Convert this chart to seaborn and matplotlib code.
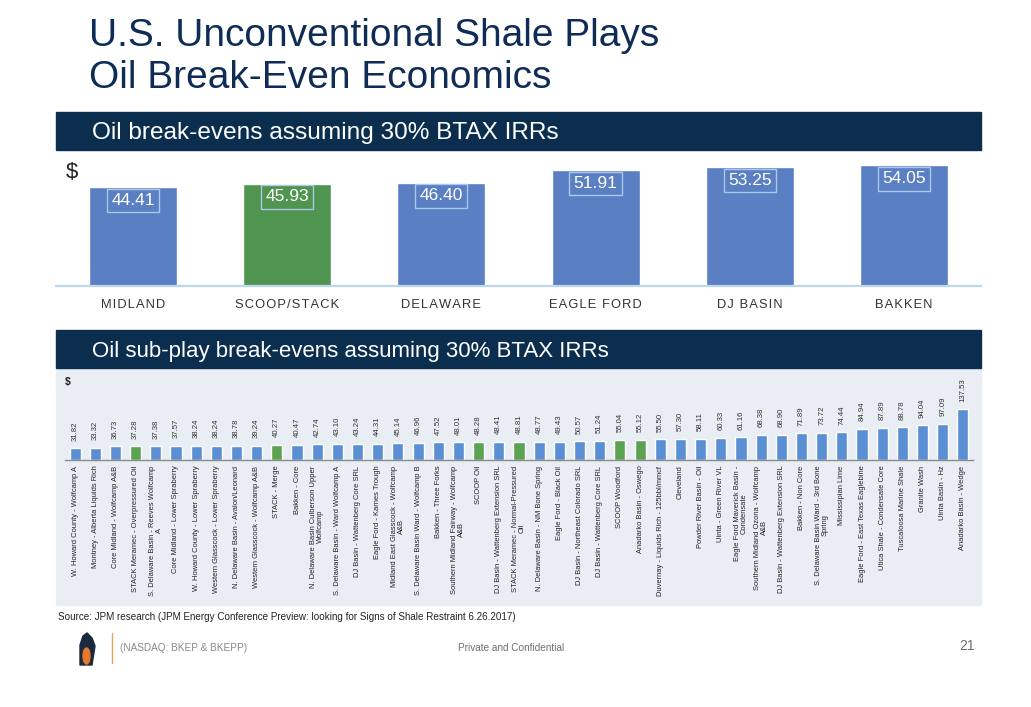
import numpy as np
import pandas as pd
import matplotlib.pyplot as plt
import matplotlib.patches as mpatches
import seaborn as sns

# Datos - gráfico superior
plays = ['MIDLAND', 'SCOOP/STACK', 'DELAWARE', 'EAGLE FORD', 'DJ BASIN', 'BAKKEN']
play_be = [44.41, 45.93, 46.40, 51.91, 53.25, 54.05]
play_grp = ['other', 'scoop', 'other', 'other', 'other', 'other']

# Datos - gráfico inferior (sub-plays)
sub_names = [
    'W. Howard County - Wolfcamp A', 'Montney - Alberta Liquids Rich',
    'Core Midland - Wolfcamp A&B', 'STACK Meramec - Overpressured Oil',
    'S. Delaware Basin - Reeves Wolfcamp\nA', 'Core Midland - Lower Spraberry',
    'W. Howard County - Lower Spraberry', 'Western Glasscock - Lower Spraberry',
    'N. Delaware Basin - Avalon/Leonard', 'Western Glasscock - Wolfcamp A&B',
    'STACK - Merge', 'Bakken - Core',
    'N. Delaware Basin Culberson Upper\nWolfcamp', 'S. Delaware Basin - Ward Wolfcamp A',
    'DJ Basin - Wattenberg Core SRL', 'Eagle Ford - Karnes Trough',
    'Midland East Glasscock - Wolfcamp\nA&B', 'S. Delaware Basin Ward - Wolfcamp B',
    'Bakken - Three Forks', 'Southern Midland Fairway - Wolfcamp\nA&B',
    'SCOOP Oil', 'DJ Basin - Wattenberg Extension SRL',
    'STACK Meramec - Normal-Pressured\nOil', 'N. Delaware Basin - NM Bone Spring',
    'Eagle Ford - Black Oil', 'DJ Basin - Northeast Colorado SRL',
    'DJ Basin - Wattenberg Core SRL', 'SCOOP Woodford',
    'Anadarko Basin - Oswego', 'Duvernay - Liquids Rich - 125bbl/mmcf',
    'Cleveland', 'Powder River Basin - Oil',
    'Uinta - Green River VL', 'Eagle Ford Maverick Basin -\nCondensate',
    'Southern Midland Ozona - Wolfcamp\nA&B', 'DJ Basin - Wattenberg Extension SRL',
    'Bakken - Non Core', 'S. Delaware Basin Ward - 3rd Bone\nSpring',
    'Mississipian Lime', 'Eagle Ford - East Texas Eaglebine',
    'Utica Shale - Condensate Core', 'Tuscaloosa Marine Shale',
    'Granite Wash', 'Uinta Basin - Hz', 'Anadarko Basin - Wedge',
]
sub_be = [31.82, 33.32, 36.73, 37.28, 37.38, 37.57, 38.24, 38.24, 38.78, 39.24,
          40.27, 40.47, 42.74, 43.10, 43.24, 44.31, 45.14, 46.96, 47.52, 48.01,
          48.28, 48.41, 48.81, 48.77, 49.43, 50.57, 51.24, 55.04, 55.12, 55.50,
          57.30, 58.11, 60.33, 61.16, 68.38, 68.90, 71.89, 73.72, 74.44, 84.94,
          87.89, 88.78, 94.04, 97.09, 137.53]
green_idx = [3, 10, 20, 22, 27, 28]

W, H = 1031, 707
NAVY = '#0B2E4F'
TITLE = '#0E2C55'


def px_box(x0, y0, x1, y1):
    return [x0 / W, 1 - y1 / H, (x1 - x0) / W, (y1 - y0) / H]


def ftxt(x, y, s, **kw):
    fig.text(x / W, 1 - y / H, s, **kw)


sns.set_style('white')
plt.rcParams['font.family'] = ['Liberation Sans', 'DejaVu Sans']

fig = plt.figure(figsize=(W / 100, H / 100), dpi=100)
fig.patch.set_facecolor('white')

# Titulo
ftxt(89, 46, 'U.S. Unconventional Shale Plays', va='baseline', ha='left',
     fontsize=28, color=TITLE)
ftxt(89, 88, 'Oil Break-Even Economics', va='baseline', ha='left',
     fontsize=28, color=TITLE)

# Banners
for y0, txt, fs in [(112, 'Oil break-evens assuming 30% BTAX IRRs', 17.6),
                    (330, 'Oil sub-play break-evens assuming 30% BTAX IRRs', 16)]:
    fig.patches.append(mpatches.Rectangle((56 / W, 1 - (y0 + 38) / H), 925 / W, 38 / H,
                                          transform=fig.transFigure, color=NAVY, zorder=-1))
    ftxt(92, y0 + 27, txt, va='baseline', ha='left', fontsize=fs, color='white')

# Fondo del gráfico inferior
fig.patches.append(mpatches.Rectangle((56 / W, 1 - 605 / H), 925 / W, 237 / H,
                                      transform=fig.transFigure, color='#E8EEF4', zorder=-2))

# ---- Gráfico superior
df_top = pd.DataFrame({'play': plays, 'be': play_be, 'grp': play_grp})
ax1 = fig.add_axes(px_box(56, 150, 981, 286))
ax1.set_facecolor('none')
sns.barplot(data=df_top, x='play', y='be', hue='grp', dodge=False, width=0.57,
            palette={'other': '#5A7FC3', 'scoop': '#4F9550'}, legend=False,
            saturation=1, ax=ax1)
ax1.set_xlim(-0.5, 5.5)
ax1.set_ylim(0, 61)
for i, v in enumerate(play_be):
    ax1.text(i, v - 6.0, f'{v:.2f}', ha='center', va='center', fontsize=12.5,
             color='white',
             bbox=dict(boxstyle='square,pad=0.25', fc='none', ec='#A9C8EC', lw=1))
ax1.set_xlabel('')
ax1.set_ylabel('')
ax1.set_yticks([])
ax1.tick_params(axis='x', length=0, pad=9)
ax1.set_xticks(range(len(plays)))
ax1.set_xticklabels(['\u200a'.join(p) for p in plays], fontsize=9.3, color='#333333')
for s in ['top', 'left', 'right']:
    ax1.spines[s].set_visible(False)
ax1.spines['bottom'].set_color('#BDD7EE')
ax1.spines['bottom'].set_linewidth(1.6)
ftxt(72, 172, '$', ha='center', va='center', fontsize=16, color='#222222')

# ---- Gráfico inferior
pos = np.arange(len(sub_be))
grp = ['green' if i in green_idx else 'blue' for i in pos]
df_sub = pd.DataFrame({'pos': pos, 'be': sub_be, 'grp': grp})
ax2 = fig.add_axes(px_box(65, 368, 973, 460))
ax2.set_facecolor('none')
sns.barplot(data=df_sub, x='pos', y='be', hue='grp', dodge=False, width=0.55,
            palette={'blue': '#5B8FD4', 'green': '#5BA352'}, legend=False,
            saturation=1, ax=ax2)
ax2.set_xlim(-0.5, len(sub_be) - 0.5)
ax2.set_ylim(0, 249)
for i, v in enumerate(sub_be):
    ax2.annotate(f'{v:.2f}', (i, v), xytext=(0, 5.5), textcoords='offset points',
                 rotation=90, ha='center', va='bottom', fontsize=5.6, color='#333333')
ax2.set_xticks(pos)
ax2.set_xticklabels(sub_names, rotation=90, fontsize=5.4, color='#222222',
                    multialignment='center', linespacing=1.0)
ax2.tick_params(axis='x', length=0, pad=4)
ax2.set_yticks([])
ax2.set_xlabel('')
ax2.set_ylabel('')
for s in ['top', 'left', 'right']:
    ax2.spines[s].set_visible(False)
ax2.spines['bottom'].set_color('#8C8C8C')
ax2.spines['bottom'].set_linewidth(1)
ftxt(68, 382, '$', ha='center', va='center', fontsize=7.5, weight='bold', color='#222222')

# Fuente y pie
ftxt(58, 617, 'Source: JPM research (JPM Energy Conference Preview: looking for Signs of '
     'Shale Restraint 6.26.2017)', ha='left', va='center', fontsize=7.1, color='#222222')
fig.patches.append(mpatches.Polygon(
    [(80 / W, 1 - 665 / H), (80 / W, 1 - 645 / H), (83 / W, 1 - 636 / H),
     (87 / W, 1 - 633 / H), (92 / W, 1 - 638 / H), (95 / W, 1 - 646 / H),
     (92 / W, 1 - 665 / H)], closed=True, transform=fig.transFigure, color='#1B2A3E'))
fig.patches.append(mpatches.Ellipse((86.5 / W, 1 - 656 / H), 7 / W, 16 / H,
                                    transform=fig.transFigure, color='#E8782A'))
fig.lines.append(plt.Line2D([112 / W, 112 / W], [1 - 633 / H, 1 - 663 / H],
                            transform=fig.transFigure, color='#E8A25A', lw=1))
ftxt(120, 648, '(NASDAQ: BKEP & BKEPP)', ha='left', va='center', fontsize=7.2, color='#8A8A8A')
ftxt(458, 648, 'Private and Confidential', ha='left', va='center', fontsize=7.2, color='#6F6F6F')
ftxt(975, 646, '21', ha='right', va='center', fontsize=10, color='#6F6F6F')

plt.savefig('out.png', dpi=100)
